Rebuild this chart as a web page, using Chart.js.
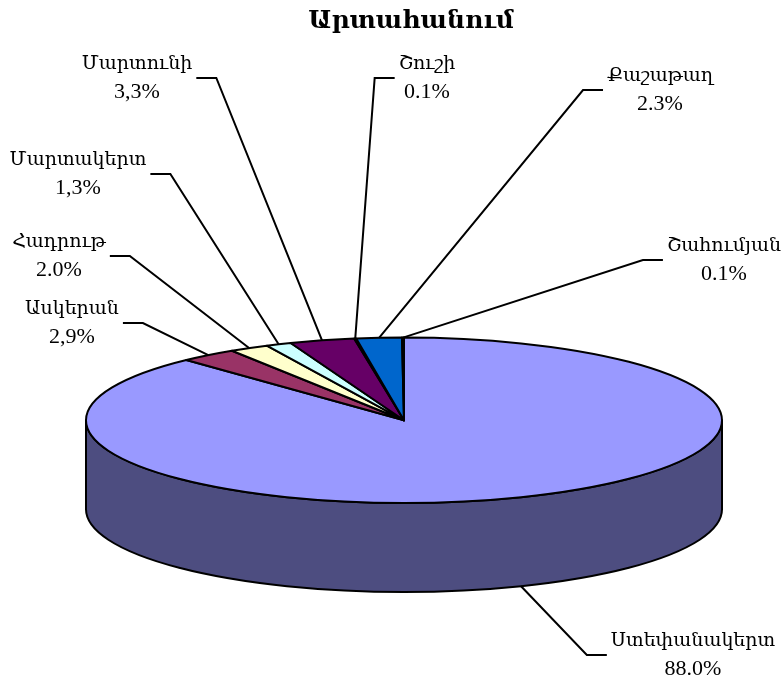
<!DOCTYPE html>
<html>
<head>
<meta charset="utf-8">
<script src="https://cdn.jsdelivr.net/npm/chart.js@4"></script>
<style>
    body { margin: 0; background: #fff; }
    #wrap { width: 784px; height: 683px; }
</style>
</head>
<body>
<div id="wrap"><canvas id="grafico" width="784" height="683"></canvas></div>
<script>
// Data (clockwise from 12 o'clock)
const districts = ['Ստեփանակերտ', 'Ասկերան', 'Հադրութ', 'Մարտակերտ', 'Մարտունի', 'Շուշի', 'Քաշաթաղ', 'Շահումյան'];
const shares = [88.0, 2.9, 2.0, 1.3, 3.3, 0.1, 2.3, 0.1];
const shareLabels = ['88.0%', '2,9%', '2.0%', '1,3%', '3,3%', '0.1%', '2.3%', '0.1%'];
const sliceColors = ['#9999FF', '#993366', '#FFFFCC', '#CCFFFF', '#660066', '#FF8080', '#0066CC', '#CCCCFF'];

// Where each label block sits (centre x, middle y)
const labelSpots = [[693, 655], [72, 323], [59, 256], [78, 174], [137, 78], [427, 78], [660, 90], [724, 260]];

const TILT = 0.26;   // ry / rx of the top face
const DEPTH = 0.28;  // side height / rx
const serif = '"Liberation Serif", "DejaVu Serif", serif';

// Darker shade for the side walls
function darken(hex) {
    const n = parseInt(hex.slice(1), 16);
    const r = Math.round(((n >> 16) & 255) / 2);
    const g = Math.round(((n >> 8) & 255) / 2);
    const b = Math.round((n & 255) / 2);
    return `rgb(${r}, ${g}, ${b})`;
}

// Draws the pie as a tilted 3D disc from the arc elements Chart.js laid out
const pie3d = {
    id: 'pie3d',
    beforeDatasetsDraw(chart) {
        const ctx = chart.ctx;
        const area = chart.chartArea;
        const rx = (area.right - area.left) / 2;
        const ry = rx * TILT;
        const depth = rx * DEPTH;
        const cx = (area.left + area.right) / 2;
        const cy = area.bottom - depth - ry;
        const arcs = chart.getDatasetMeta(0).data;
        chart.$geom = { cx, cy, rx, ry, depth };

        ctx.save();
        ctx.lineWidth = 2;
        ctx.strokeStyle = '#000';
        ctx.lineJoin = 'round';

        // front walls (only the part facing the viewer)
        arcs.forEach((arc, i) => {
            const a0 = Math.max(arc.startAngle, 0);
            const a1 = Math.min(arc.endAngle, Math.PI);
            if (a1 <= a0) return;
            ctx.beginPath();
            ctx.ellipse(cx, cy, rx, ry, 0, a0, a1);
            ctx.lineTo(cx + rx * Math.cos(a1), cy + depth + ry * Math.sin(a1));
            ctx.ellipse(cx, cy + depth, rx, ry, 0, a1, a0, true);
            ctx.closePath();
            ctx.fillStyle = darken(sliceColors[i]);
            ctx.fill();
            ctx.stroke();
        });

        // top face
        arcs.forEach((arc, i) => {
            ctx.beginPath();
            ctx.moveTo(cx, cy);
            ctx.ellipse(cx, cy, rx, ry, 0, arc.startAngle, arc.endAngle);
            ctx.closePath();
            ctx.fillStyle = sliceColors[i];
            ctx.fill();
            ctx.stroke();
        });
        ctx.restore();
        return false; // skip the flat pie
    },
    afterDraw(chart) {
        const ctx = chart.ctx;
        const { cx, cy, rx, ry, depth } = chart.$geom;
        const arcs = chart.getDatasetMeta(0).data;
        const nameFont = `19px ${serif}`;
        const pctFont = `22px ${serif}`;

        ctx.save();
        ctx.textAlign = 'center';
        ctx.textBaseline = 'middle';
        ctx.fillStyle = '#000';
        ctx.strokeStyle = '#000';
        ctx.lineWidth = 2;

        arcs.forEach((arc, i) => {
            const mid = (arc.startAngle + arc.endAngle) / 2;
            const front = mid > 0 && mid < Math.PI;
            const ax = cx + rx * Math.cos(mid);
            const ay = cy + (front ? depth : 0) + ry * Math.sin(mid);
            const [lx, ly] = labelSpots[i];
            ctx.font = nameFont;
            const w1 = ctx.measureText(districts[i]).width;
            ctx.font = pctFont;
            const w2 = ctx.measureText(shareLabels[i]).width;
            const w = Math.max(w1, w2);
            let edgeX, elbowX;
            if (lx > ax) {
                edgeX = lx - w / 2 - 4;
                elbowX = edgeX - 20;
            } else {
                edgeX = lx + w / 2 + 4;
                elbowX = edgeX + 20;
            }
            ctx.beginPath();
            ctx.moveTo(ax, ay);
            ctx.lineTo(elbowX, ly);
            ctx.lineTo(edgeX, ly);
            ctx.stroke();

            ctx.font = nameFont;
            ctx.fillText(districts[i], lx, ly - 14);
            ctx.font = pctFont;
            ctx.fillText(shareLabels[i], lx, ly + 14);
        });

        // title
        ctx.font = `bold 25px ${serif}`;
        ctx.fillText('Արտահանում', 411, 22);
        ctx.restore();
    }
};

new Chart(document.getElementById('grafico'), {
    type: 'pie',
    data: {
        labels: districts,
        datasets: [{
            data: shares,
            backgroundColor: sliceColors,
            borderColor: '#000',
            borderWidth: 2
        }]
    },
    options: {
        responsive: false,
        animation: false,
        layout: { padding: { left: 86, right: 62, top: 338, bottom: 91 } },
        plugins: {
            legend: { display: false },
            tooltip: { enabled: false },
            title: { display: false }
        }
    },
    plugins: [pie3d]
});
</script>
</body>
</html>
